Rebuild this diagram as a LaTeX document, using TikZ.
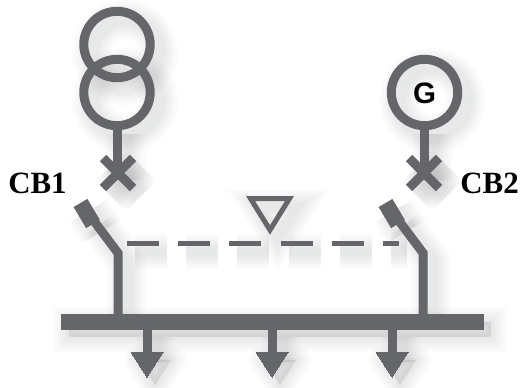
\documentclass[tikz,border=0pt]{standalone}
\usepackage{fontspec}
\setmainfont{Liberation Serif}
\newfontfamily\labelsans{Liberation Sans}
\definecolor{busgray}{HTML}{65666A}
\def\px{0.025cm}
\def\extra{0}
\tikzset{
	wire/.style={draw=busgray, line width={(9+\extra)*\px}},
	dashwire/.style={draw=busgray, line width={(5.5+\extra)*\px}},
	blade/.style={draw=busgray, line width={(16+\extra)*\px}},
	solid head/.style={draw=busgray, fill=busgray, line width={\extra*\px}, line join=round},
	busbar/.style={draw=busgray, fill=busgray, line width={\extra*\px}},
	ring/.style={draw=busgray, line width={(9+\extra)*\px}},
	cb label/.style={font=\fontsize{22}{24}\selectfont\bfseries, inner sep=0pt, anchor=base}
}
% everything that casts a shadow
\def\lineart{
	\draw[ring] (117, 44.5) circle (33.2);
	\draw[ring] (117, 92.5) circle (33.2);
	\draw[wire] (117, 126) -- (117, 172);
	\draw[wire] (103, 158) -- (133, 188);
	\draw[wire] (133, 158) -- (103, 188);

	\draw[ring] (424.5, 92.5) circle (33.2);
	\draw[wire] (424, 126) -- (424, 172);
	\draw[wire] (409, 158) -- (439, 188);
	\draw[wire] (439, 158) -- (409, 188);

	\draw[wire, line join=miter] (118, 315) -- (118, 253) -- (91, 217);
	\draw[blade] (93, 224) -- (80.5, 203);
	\draw[wire, line join=miter] (423, 315) -- (423, 253) -- (396, 217);
	\draw[blade] (398, 224) -- (385.5, 203);

	\draw[dashwire, dash pattern=on 0.8cm off 0.48cm] (127, 243.5) -- (399, 243.5);
	\draw[draw=busgray, line width={(5+\extra)*\px}, line join=miter] (250.5, 198.5) -- (289.5, 198.5) -- (270, 230) -- cycle;

	\draw[busbar] (61, 314) rectangle (483, 329);
	\foreach \x in {147, 272, 392}{
		\draw[wire] (\x, 329) -- (\x, 354);
		\draw[solid head] (\x-16, 352) -- (\x+16, 352) -- (\x, 377) -- cycle;
	}
}

\begin{document}
\begin{tikzpicture}[x=\px, y=-\px]
	\useasboundingbox (0, 0) rectangle (523, 387);

	% soft shadow, down and to the right
	\foreach \extra in {30, 25, 20, 16, 12, 8, 4}{
		\begin{scope}[shift={(8, 8)}, opacity=0.022]
			\lineart
		\end{scope}
	}
	\def\extra{0}
	\lineart

	\node[cb label] (cbone) at (37.5, 193) {CB1};
	\node[cb label] (cbtwo) at (489.5, 193) {CB2};
	\node[inner sep=0pt, text=black, font=\fontsize{21}{24}\labelsans\bfseries] (gen) at (424.5, 93) {G};
\end{tikzpicture}
\end{document}
